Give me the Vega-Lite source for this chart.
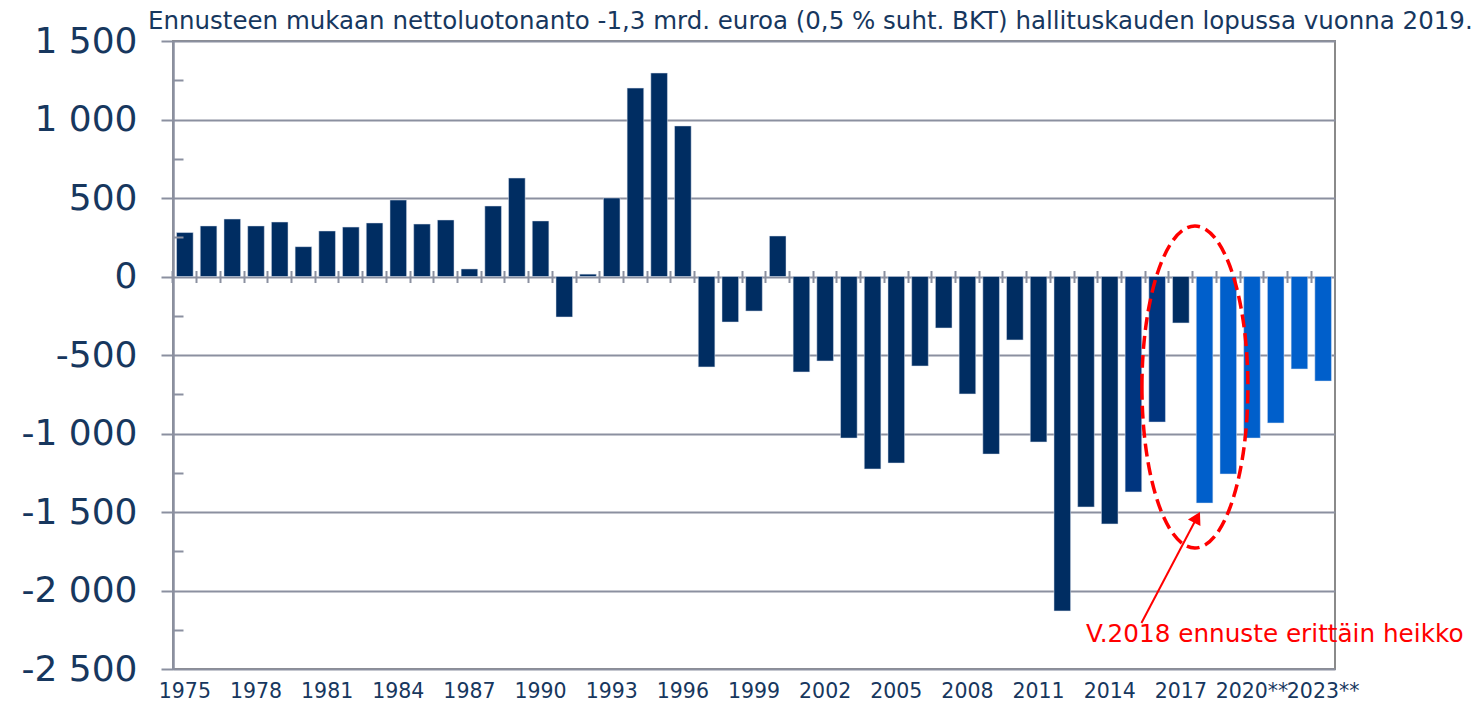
{
  "$schema": "https://vega.github.io/schema/vega-lite/v6.json",
  "width": 1162,
  "height": 628,
  "autosize": "none",
  "padding": {"left": 173, "top": 41, "right": 144, "bottom": 41},
  "background": "white",
  "config": {
    "view": {"stroke": "#8a8a8a", "strokeWidth": 2},
    "font": "DejaVu Sans"
  },
  "title": {
    "text": "Ennusteen mukaan nettoluotonanto -1,3 mrd. euroa (0,5 % suht. BKT) hallituskauden lopussa vuonna 2019.",
    "font": "DejaVu Sans",
    "fontSize": 24.5,
    "fontWeight": "normal",
    "color": "#17375E",
    "anchor": "start",
    "frame": "group",
    "dx": -25,
    "offset": -11
  },
  "datasets": {
    "bars": [
      {"year": "1975", "value": 280, "group": "hist"},
      {"year": "1976", "value": 322, "group": "hist"},
      {"year": "1977", "value": 366, "group": "hist"},
      {"year": "1978", "value": 322, "group": "hist"},
      {"year": "1979", "value": 347, "group": "hist"},
      {"year": "1980", "value": 190, "group": "hist"},
      {"year": "1981", "value": 290, "group": "hist"},
      {"year": "1982", "value": 315, "group": "hist"},
      {"year": "1983", "value": 341, "group": "hist"},
      {"year": "1984", "value": 487, "group": "hist"},
      {"year": "1985", "value": 334, "group": "hist"},
      {"year": "1986", "value": 360, "group": "hist"},
      {"year": "1987", "value": 48, "group": "hist"},
      {"year": "1988", "value": 449, "group": "hist"},
      {"year": "1989", "value": 627, "group": "hist"},
      {"year": "1990", "value": 354, "group": "hist"},
      {"year": "1991", "value": -258, "group": "hist"},
      {"year": "1992", "value": 15, "group": "hist"},
      {"year": "1993", "value": 500, "group": "hist"},
      {"year": "1994", "value": 1200, "group": "hist"},
      {"year": "1995", "value": 1296, "group": "hist"},
      {"year": "1996", "value": 959, "group": "hist"},
      {"year": "1997", "value": -576, "group": "hist"},
      {"year": "1998", "value": -290, "group": "hist"},
      {"year": "1999", "value": -220, "group": "hist"},
      {"year": "2000", "value": 258, "group": "hist"},
      {"year": "2001", "value": -608, "group": "hist"},
      {"year": "2002", "value": -538, "group": "hist"},
      {"year": "2003", "value": -1029, "group": "hist"},
      {"year": "2004", "value": -1226, "group": "hist"},
      {"year": "2005", "value": -1188, "group": "hist"},
      {"year": "2006", "value": -570, "group": "hist"},
      {"year": "2007", "value": -328, "group": "hist"},
      {"year": "2008", "value": -748, "group": "hist"},
      {"year": "2009", "value": -1131, "group": "hist"},
      {"year": "2010", "value": -404, "group": "hist"},
      {"year": "2011", "value": -1054, "group": "hist"},
      {"year": "2012", "value": -2130, "group": "hist"},
      {"year": "2013", "value": -1468, "group": "hist"},
      {"year": "2014", "value": -1576, "group": "hist"},
      {"year": "2015", "value": -1372, "group": "prelim"},
      {"year": "2016", "value": -927, "group": "prelim"},
      {"year": "2017", "value": -296, "group": "hist"},
      {"year": "2018", "value": -1443, "group": "forecast"},
      {"year": "2019", "value": -1258, "group": "forecast"},
      {"year": "2020", "value": -1029, "group": "forecast"},
      {"year": "2021", "value": -933, "group": "forecast"},
      {"year": "2022", "value": -589, "group": "forecast"},
      {"year": "2023", "value": -666, "group": "forecast"}
    ]
  },
  "layer": [
    {
      "data": {"name": "bars"},
      "mark": {"type": "bar", "stroke": "#dde3ee", "strokeWidth": 0.5},
      "encoding": {
        "x": {
          "field": "year",
          "type": "ordinal",
          "sort": "ascending",
          "scale": {"paddingInner": 0.3, "paddingOuter": 0.15},
          "axis": {
            "orient": "bottom",
            "title": null,
            "values": ["1975","1978","1981","1984","1987","1990","1993","1996","1999","2002","2005","2008","2011","2014","2017","2020","2023"],
            "labelExpr": "toNumber(datum.value) >= 2020 ? datum.value + '**' : datum.value",
            "labelAngle": 0,
            "labelFont": "DejaVu Sans",
            "labelFontSize": 20.5,
            "labelColor": "#17375E",
            "labelOverlap": false,
            "labelBound": false,
            "labelFlush": false,
            "labelPadding": 12,
            "ticks": false,
            "domain": false,
            "grid": false
          }
        },
        "y": {
          "field": "value",
          "type": "quantitative",
          "scale": {"domain": [-2500, 1500], "nice": false, "zero": false},
          "axis": {
            "orient": "left",
            "title": null,
            "values": [-2500, -2000, -1500, -1000, -500, 0, 500, 1000, 1500],
            "labelExpr": "replace(replace(format(datum.value, ','), ',', ' '), '\u2212', '-')",
            "labelFont": "DejaVu Sans",
            "labelFontSize": 36,
            "labelColor": "#17375E",
            "labelPadding": 24,
            "tickSize": 12,
            "tickColor": "#8b90a0",
            "tickWidth": 2,
            "domain": true,
            "domainColor": "#8b90a0",
            "domainWidth": 2.5,
            "grid": true,
            "gridColor": "#8b90a0",
            "gridWidth": 2
          }
        },
        "color": {
          "field": "group",
          "type": "nominal",
          "scale": {"domain": ["hist", "prelim", "forecast"], "range": ["#002D62", "#00357F", "#005FCB"]},
          "legend": null
        }
      }
    },
    {
      "data": {"values": [{"year": "2018", "value": -704}]},
      "mark": {
        "type": "point",
        "shape": "M -0.389 0 C -0.389 -0.5523 -0.2417 -1 -0.06 -1 C 0.1217 -1 0.269 -0.5523 0.269 0 C 0.269 0.5523 0.1217 1 -0.06 1 C -0.2417 1 -0.389 0.5523 -0.389 0 Z",
        "size": 103684,
        "filled": false,
        "stroke": "#FF0000",
        "strokeWidth": 3.5,
        "strokeDash": [13, 6],
        "opacity": 1
      },
      "encoding": {
        "x": {
          "field": "year",
          "type": "ordinal",
          "axis": {
            "orient": "bottom",
            "offset": -398.5,
            "labels": false,
            "domain": false,
            "grid": false,
            "title": null,
            "ticks": true,
            "tickSize": 12,
            "tickWidth": 2,
            "tickColor": "#8b90a0",
            "bandPosition": -0.2143
          }
        },
        "y": {
          "field": "value",
          "type": "quantitative",
          "axis": {
            "orient": "left",
            "offset": -10,
            "values": [-2250, -1750, -1250, -750, -250, 250, 750, 1250],
            "labels": false,
            "domain": false,
            "grid": false,
            "title": null,
            "tickSize": 10,
            "tickWidth": 2,
            "tickColor": "#8b90a0",
            "zindex": 1
          }
        }
      }
    },
    {
      "data": {"values": [{"from": "2015", "to": "2018", "y1": -2207, "y2": -1534}]},
      "mark": {"type": "rule", "color": "#FF0000", "strokeWidth": 2, "xOffset": 8, "x2Offset": -7.5},
      "encoding": {
        "x": {"field": "from", "type": "ordinal", "axis": null},
        "x2": {"field": "to"},
        "y": {"field": "y1", "type": "quantitative", "axis": null},
        "y2": {"field": "y2"}
      }
    },
    {
      "data": {"values": [{"year": "2018", "value": -1534}]},
      "mark": {"type": "point", "shape": "triangle-up", "size": 200, "filled": true, "color": "#FF0000", "opacity": 1, "angle": 28, "xOffset": -7.5},
      "encoding": {
        "x": {"field": "year", "type": "ordinal", "axis": null},
        "y": {"field": "value", "type": "quantitative", "axis": null}
      }
    },
    {
      "data": {"values": [{"year": "2013", "value": -2326, "label": "V.2018 ennuste erittäin heikko"}]},
      "mark": {"type": "text", "align": "left", "baseline": "alphabetic", "font": "DejaVu Sans", "fontSize": 24.7, "color": "#FF0000"},
      "encoding": {
        "x": {"field": "year", "type": "ordinal", "axis": null},
        "y": {"field": "value", "type": "quantitative", "axis": null},
        "text": {"field": "label"}
      }
    }
  ],
  "resolve": {"axis": {"x": "independent", "y": "independent"}}
}
